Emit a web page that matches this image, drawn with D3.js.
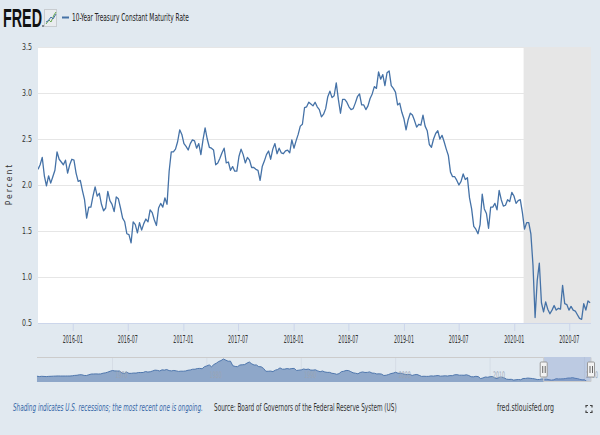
<!DOCTYPE html>
<html><head><meta charset="utf-8">
<script src="https://cdn.jsdelivr.net/npm/d3@7"></script>
<style>html,body{margin:0;padding:0;background:#e1e9f0;} svg{display:block}</style>
</head><body><svg id="c" width="600" height="435"></svg>
<script>
// ---- DATA ----
const seriesTitle = "10-Year Treasury Constant Maturity Rate";
// weekly observations (one per week starting 2015-09-08), percent
const yields2015 = [2.17,2.22,2.30,2.10,1.99,2.10,2.02,2.09,2.16,2.36,2.28,2.25,2.22,2.27,2.13,2.22,2.28];
const yields2016 = [2.27,2.13,2.04,2.05,1.94,1.84,1.64,1.76,1.76,1.88,1.98,1.88,1.91,1.79,1.72,1.75,1.93,1.83,1.79,1.71,1.87,1.85,1.75,1.64,1.60,1.47,1.46,1.37,1.60,1.57,1.48,1.59,1.51,1.58,1.63,1.60,1.73,1.70,1.62,1.56,1.75,1.80,1.76,1.86,1.79,2.15,2.36,2.36,2.39,2.47,2.60,2.55,2.45];
const yields2017 = [2.42,2.38,2.45,2.49,2.48,2.40,2.45,2.33,2.49,2.62,2.50,2.41,2.40,2.38,2.22,2.24,2.29,2.35,2.40,2.24,2.25,2.16,2.20,2.15,2.15,2.31,2.39,2.33,2.24,2.30,2.27,2.19,2.19,2.17,2.16,2.05,2.20,2.26,2.33,2.37,2.28,2.39,2.45,2.34,2.40,2.35,2.34,2.37,2.38,2.35,2.49,2.40];
const yields2018 = [2.48,2.55,2.64,2.66,2.84,2.85,2.90,2.88,2.86,2.90,2.85,2.82,2.74,2.77,2.83,2.96,3.02,2.95,2.97,3.11,2.93,2.78,2.93,2.93,2.90,2.85,2.82,2.83,2.89,2.96,2.99,2.87,2.87,2.82,2.86,2.94,2.99,3.07,3.05,3.23,3.15,3.20,3.08,3.22,3.24,3.08,3.05,3.01,2.87,2.89,2.79,2.72];
const yields2019 = [2.60,2.71,2.78,2.76,2.70,2.63,2.66,2.65,2.76,2.64,2.59,2.44,2.41,2.50,2.56,2.59,2.50,2.54,2.47,2.39,2.32,2.14,2.09,2.09,2.05,2.00,2.04,2.12,2.06,2.08,1.86,1.74,1.55,1.52,1.47,1.57,1.90,1.74,1.69,1.53,1.76,1.76,1.80,1.73,1.94,1.84,1.77,1.78,1.84,1.82,1.92,1.88];
const yields2020 = [1.80,1.83,1.84,1.70,1.52,1.59,1.59,1.47,1.13,0.56,0.96,1.15,0.72,0.62,0.73,0.65,0.60,0.64,0.69,0.64,0.66,0.65,0.91,0.71,0.70,0.64,0.68,0.64,0.63,0.59,0.55,0.54,0.71,0.64,0.74,0.72];
const firstWeek = "2015-09-08", lastWeek = "2020-09-08";
const viewStart = "2015-09-08", viewEnd = "2020-09-11";
const recessionStart = "2020-02-01";
const yTicks = [0.5,1.0,1.5,2.0,2.5,3.0,3.5];
const xTickLabels = ["2016-01","2016-07","2017-01","2017-07","2018-01","2018-07","2019-01","2019-07","2020-01","2020-07"];
// navigator: quarterly history (Jan, Apr, Jul, Oct) 1962 - 2020
const navValues = [
4.08,3.84,4.01,3.93, 3.83,3.97,4.02,4.11, 4.17,4.23,4.19,4.19, 4.19,4.21,4.20,4.34, 4.61,4.69,5.02,5.01,
4.58,4.52,5.01,5.49, 5.53,5.59,5.50,5.58, 6.04,6.26,6.72,7.33, 7.79,7.54,7.46,7.46, 6.24,5.83,6.73,5.93,
5.95,6.17,6.11,6.48, 6.46,6.51,7.13,6.79, 6.99,7.51,8.04,7.90, 7.50,8.23,8.06,8.43, 7.74,7.56,7.83,7.56,
7.21,7.37,7.33,7.52, 7.96,8.15,8.64,8.64, 9.10,9.18,8.95,10.30, 10.80,11.47,10.25,11.75, 12.57,13.68,14.28,15.32,
14.59,13.87,13.95,10.91, 10.46,10.31,11.38,11.54, 11.67,12.63,13.36,12.16, 11.38,11.43,10.31,10.24, 9.19,7.30,7.30,7.43,
7.08,8.02,8.45,9.52, 8.67,8.72,9.06,8.80, 9.09,9.18,7.83,8.01, 8.21,8.79,8.47,8.72, 8.09,8.04,8.27,7.53,
7.03,7.48,6.84,6.59, 6.60,5.97,5.81,5.33, 5.75,7.04,7.30,7.83, 7.78,7.06,6.28,6.04, 5.65,6.51,6.87,6.53,
6.58,6.89,6.12,6.03, 5.54,5.64,5.46,4.53, 4.72,5.18,5.79,6.11, 6.66,5.99,6.05,5.74, 5.16,5.14,5.24,4.57,
5.04,5.21,4.65,3.94, 4.05,3.96,3.98,4.29, 4.15,4.35,4.50,4.10, 4.22,4.34,4.18,4.46, 4.42,4.99,5.09,4.73,
4.76,4.69,5.00,4.53, 3.74,3.68,4.01,3.81, 2.52,2.93,3.56,3.39, 3.73,3.85,3.01,2.54, 3.39,3.46,3.00,2.15,
1.97,2.05,1.53,1.75, 1.91,1.76,2.58,2.62, 2.86,2.71,2.54,2.30, 1.88,1.94,2.32,2.07, 2.09,1.81,1.50,1.76,
2.43,2.30,2.32,2.36, 2.58,2.87,2.89,3.15, 2.71,2.53,2.06,1.71, 1.76,0.66,0.62];
const navStart = "1962-01", navEnd = "2020-07";
const navLabels = ["1970","1980","1990","2000","2010","2020"];
const footerNote = "Shading indicates U.S. recessions; the most recent one is ongoing.";
const footerSource = "Source: Board of Governors of the Federal Reserve System (US)";
const footerSite = "fred.stlouisfed.org";

// ---- DRAW ----
const parse = d3.timeParse("%Y-%m-%d");
const pm = d3.timeParse("%Y-%m");
const FONT = "'Liberation Sans Narrow','Arial Narrow','DejaVu Sans Condensed',sans-serif";
const svg = d3.select("#c");
const L = 38, R = 591, T = 47, B = 323;

// text squeezed horizontally to a measured width (keeps bbox = drawn size)
function fitText(g, str, x, y, width, o = {}) {
  const t = g.append("text").attr("font-family", o.family || FONT).attr("font-size", o.size || 10)
    .attr("fill", o.fill || "#333").attr("text-anchor", o.anchor || "start").text(str);
  if (o.weight) t.attr("font-weight", o.weight);
  if (o.style) t.attr("font-style", o.style);
  const n = t.node().getComputedTextLength();
  t.attr("transform", `translate(${x},${y}) scale(${width / n},1)`);
  return t;
}

const values = [].concat(yields2015, yields2016, yields2017, yields2018, yields2019, yields2020);
const weeks = d3.timeTuesday.range(parse(firstWeek), d3.timeDay.offset(parse(lastWeek), 1));
const data = weeks.map((d, i) => ({date: d, v: values[i]})).filter(d => d.v != null);

const x = d3.scaleTime().domain([parse(viewStart), parse(viewEnd)]).range([L, R]);
const y = d3.scaleLinear().domain([0.5, 3.5]).range([B, T]);

svg.append("rect").attr("width", 600).attr("height", 435).attr("fill", "#e1e9f0");
svg.append("rect").attr("x", L).attr("y", T).attr("width", R - L).attr("height", B - T).attr("fill", "#fff");
svg.append("rect").attr("x", x(parse(recessionStart))).attr("y", T)
  .attr("width", R - x(parse(recessionStart))).attr("height", B - T).attr("fill", "#e6e6e6");

// y axis grid + labels
const gy = svg.append("g").attr("transform", `translate(${L},0)`)
  .call(d3.axisLeft(y).tickValues(yTicks).tickFormat("").tickSize(-(R - L)));
gy.select(".domain").remove();
gy.selectAll(".tick line").attr("stroke", "#e6e6e6");
const fmt = d3.format(".1f");
yTicks.forEach(v => fitText(svg, fmt(v), 32, y(v) + 3.2, 10, {size: 9, anchor: "end"}));

// line
svg.append("clipPath").attr("id", "pc").append("rect").attr("x", L).attr("y", T - 5).attr("width", R - L).attr("height", B - T + 10);
svg.append("path").datum(data).attr("clip-path", "url(#pc)")
  .attr("fill", "none").attr("stroke", "#4572a7").attr("stroke-width", 1.3).attr("stroke-linejoin", "round")
  .attr("d", d3.line().x(d => x(d.date)).y(d => y(d.v)));

// x axis
const xTickDates = xTickLabels.map(pm);
const gx = svg.append("g").attr("transform", `translate(0,${B})`)
  .call(d3.axisBottom(x).tickValues(xTickDates).tickFormat("").tickSize(8));
gx.select(".domain").attr("stroke", "#ccd6eb").attr("d", `M${L},0.5H${R}`);
gx.selectAll(".tick line").attr("stroke", "#ccd6eb");
xTickDates.forEach((d, i) => fitText(svg, xTickLabels[i], x(d), 342.5, 20, {size: 10.5, anchor: "middle"}));

// y axis title
svg.append("text").attr("transform", "translate(12,184) rotate(-90)").attr("text-anchor", "middle")
  .attr("font-family", FONT).attr("font-size", 8.5).attr("fill", "#333")
  .attr("letter-spacing", 2).text("Percent");

// ---- navigator ----
const NT = 357, NB = 382, NL = 37, NR = 591;
const navDates = d3.timeMonth.every(3).range(pm(navStart), d3.timeDay.offset(pm(navEnd), 1));
const navData = navDates.map((d, i) => ({date: d, v: navValues[i]}));
const nx = d3.scaleTime().domain([parse("1962-01-02"), parse(viewEnd)]).range([NL, NR]);
const ny = d3.scaleLinear().domain(d3.extent(navValues)).range([NB - 0.5, 359]);
const gnav = svg.append("g");
navLabels.forEach(l => {
  const xx = nx(d3.timeParse("%Y")(l));
  gnav.append("line").attr("x1", xx).attr("x2", xx).attr("y1", NT).attr("y2", NB).attr("stroke", "#d6dde6");
});
gnav.append("path").datum(navData).attr("fill", "#8ea7c9")
  .attr("d", d3.area().x(d => nx(d.date)).y0(NB).y1(d => ny(d.v)));
gnav.append("path").datum(navData).attr("fill", "none").attr("stroke", "#4f77ad").attr("stroke-width", 1)
  .attr("d", d3.line().x(d => nx(d.date)).y(d => ny(d.v)));
navLabels.forEach(l => {
  const xx = nx(d3.timeParse("%Y")(l));
  fitText(gnav, l, Math.min(xx + 3, 586), 377.5, 12, {size: 9, fill: "#9aa5b5"});
});
const m0 = nx(parse(viewStart));
gnav.append("rect").attr("x", m0).attr("y", NT).attr("width", NR - m0).attr("height", NB - NT)
  .attr("fill", "rgba(102,133,194,0.3)");
gnav.append("path").attr("fill", "none").attr("stroke", "#cccccc")
  .attr("d", `M${NL},${NT + 0.5}H${m0}V${NB - 0.5}H${NR}V${NT + 0.5}`);
[m0, NR].forEach(hx => {
  gnav.append("rect").attr("x", hx - 3.5).attr("y", 362).attr("width", 7).attr("height", 15).attr("rx", 1)
    .attr("fill", "#f2f2f2").attr("stroke", "#999");
  gnav.append("path").attr("stroke", "#666").attr("d", `M${hx - 1},366V373M${hx + 1.5},366V373`);
});

// ---- header ----
fitText(svg, "FRED", 3, 27, 39, {family: "'Liberation Sans',Arial,sans-serif", weight: "bold", size: 26, fill: "#111"});
svg.append("circle").attr("cx", 43).attr("cy", 26).attr("r", 0.8).attr("fill", "#111");
const icon = svg.append("g");
icon.append("rect").attr("x", 44.5).attr("y", 9.5).attr("width", 12).attr("height", 17).attr("fill", "#e9ecef").attr("stroke", "#c8ccd0");
icon.append("path").attr("fill", "none").attr("stroke", "#6aa84f").attr("stroke-width", 1)
  .attr("d", "M46,24L49,20L51,22L54,15L56,12");
icon.append("path").attr("fill", "none").attr("stroke", "#4572a7").attr("stroke-width", 1)
  .attr("d", "M46,22L48,21L51,17L53,19L56,14");
svg.append("line").attr("x1", 62).attr("x2", 69).attr("y1", 17.5).attr("y2", 17.5).attr("stroke", "#4572a7").attr("stroke-width", 2);
fitText(svg, seriesTitle, 72, 20.8, 117, {size: 10.5, fill: "#222"});

// ---- footer ----
fitText(svg, footerNote, 13, 411, 190, {size: 10.5, style: "italic", fill: "#3768a8"});
fitText(svg, footerSource, 214, 411, 183, {size: 10.5});
fitText(svg, footerSite, 497, 411, 57, {size: 10.5});
svg.append("path").attr("fill", "none").attr("stroke", "#444").attr("stroke-width", 1.2)
  .attr("d", "M586,407.5V405.5H588M590,405.5H592V407.5M592,410.5V412.5H590M588,412.5H586V410.5");
</script></body></html>
